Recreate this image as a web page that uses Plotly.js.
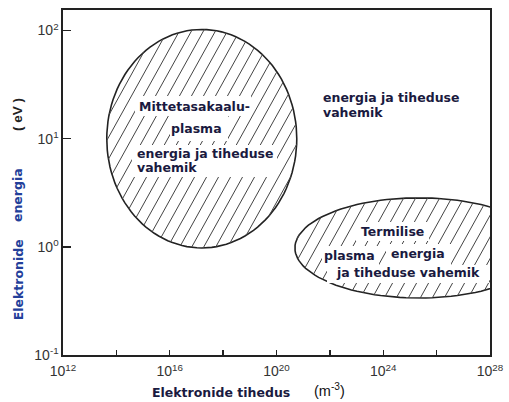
<!DOCTYPE html>
<html>
<head>
<meta charset="utf-8">
<script src="https://cdn.plot.ly/plotly-3.0.1.min.js"></script>
<style>
  html, body { margin: 0; padding: 0; background: #fff; }
  #chart { width: 509px; height: 402px; }
</style>
</head>
<body>
<div id="chart"></div>
<script>
// Regions (ellipses in log-log space): centre and half-extent in decades
const regionNames = ["Mittetasakaalu-plasma", "Termilise plasma"];
const regionCenterLogDensity = [17.2, 25.34];   // log10(n_e / m^-3)
const regionHalfWidthDecades = [3.56, 4.65];
const regionCenterLogEnergy = [1.0, -0.01];     // log10(T_e / eV)
const regionHalfHeightDecades = [1.01, 0.463];

// Axis ticks
const xTickVals = [1e12, 1e16, 1e20, 1e24, 1e28];
const xTickText = ["10<sup>12</sup>", "10<sup>16</sup>", "10<sup>20</sup>", "10<sup>24</sup>", "10<sup>28</sup>"];
const xMinorTickVals = [1e14, 1e18, 1e22, 1e26];
const yTickVals = [0.1, 1, 10, 100];
const yTickText = ["10<sup>-1</sup>", "10<sup>0</sup>", "10<sup>1</sup>", "10<sup>2</sup>"];

// ---- geometry / style ----
const W = 509, H = 402;
const M = { l: 63, r: 19, t: 10, b: 47 };
const xRange = [12, 28], yRange = [-1, 2.19];
const plotW = W - M.l - M.r, plotH = H - M.t - M.b;
const sx = plotW / (xRange[1] - xRange[0]);   // px per decade
const sy = plotH / (yRange[1] - yRange[0]);
const hatchSpacing = 12;                       // px, horizontal
const hatchAngle = 61 * Math.PI / 180;

const traces = [];
regionNames.forEach((name, i) => {
  const cu = regionCenterLogDensity[i], cv = regionCenterLogEnergy[i];
  const a = regionHalfWidthDecades[i], b = regionHalfHeightDecades[i];
  // outline
  const xs = [], ys = [];
  for (let deg = 0; deg <= 360; deg += 3) {
    const t = deg * Math.PI / 180;
    xs.push(Math.pow(10, cu + a * Math.cos(t)));
    ys.push(Math.pow(10, cv + b * Math.sin(t)));
  }
  // hatch lines clipped to the ellipse (computed in pixel space)
  const A = a * sx, B = b * sy, k = 1 / Math.tan(hatchAngle);
  const hx = [], hy = [];
  const cmax = A + B * k;
  const qa = k * k / (A * A) + 1 / (B * B);
  for (let c = -Math.floor(cmax / hatchSpacing) * hatchSpacing + (i ? 5 : 2); c < cmax; c += hatchSpacing) {
    const qb = 2 * c * k / (A * A), qc = c * c / (A * A) - 1;
    const disc = qb * qb - 4 * qa * qc;
    if (disc <= 0) continue;
    const y1 = (-qb - Math.sqrt(disc)) / (2 * qa), y2 = (-qb + Math.sqrt(disc)) / (2 * qa);
    [y1, y2].forEach(Y => {
      const X = c + Y * k;
      hx.push(Math.pow(10, cu + X / sx));
      hy.push(Math.pow(10, cv + Y / sy));
    });
    hx.push(null); hy.push(null);
  }
  traces.push({
    type: "scatter", mode: "lines", name: name,
    x: xs, y: ys, fill: "toself", fillcolor: "white",
    line: { color: "#222", width: 1.6 }, hoverinfo: "skip", showlegend: false
  });
  traces.push({
    type: "scatter", mode: "lines", name: name + " hatch",
    x: hx, y: hy, connectgaps: false,
    line: { color: "#444", width: 1 }, hoverinfo: "skip", showlegend: false
  });
});

// white boxes behind the region labels (pixel boxes -> paper coords)
function box(x0, x1, y0, y1) {
  return {
    type: "rect", xref: "paper", yref: "paper", layer: "above",
    x0: (x0 - M.l) / plotW, x1: (x1 - M.l) / plotW,
    y0: (H - M.b - y1) / plotH, y1: (H - M.b - y0) / plotH,
    fillcolor: "white", line: { width: 0 }
  };
}
const shapes = [
  box(135, 251, 96, 116),
  box(170, 228, 116, 141),
  box(132, 277, 145, 177),
  box(356, 429, 222, 241),
  box(322, 379, 246, 265),
  box(386, 451, 244, 265),
  box(327, 489, 265, 283)
];

const txtFont = { family: "DejaVu Sans", size: 12.5, color: "#1a1a40" };
function lab(text, x, y, opts) {
  return Object.assign({
    text: "<b>" + text + "</b>", x: x, y: y, xref: "x", yref: "y",
    showarrow: false, font: txtFont, xanchor: "center", yanchor: "middle"
  }, opts || {});
}

const annotations = [
  lab("Mittetasakaalu-", 16.91, 1.294),
  lab("plasma", 17.02, 1.091),
  lab("energia ja tiheduse", 14.70, 0.859, { xanchor: "left" }),
  lab("vahemik", 14.70, 0.730, { xanchor: "left" }),
  lab("energia ja tiheduse", 21.67, 1.377, { xanchor: "left" }),
  lab("vahemik", 21.67, 1.239, { xanchor: "left" }),
  lab("Termilise", 24.36, 0.138),
  lab("plasma", 22.75, -0.084),
  lab("energia", 25.30, -0.066),
  lab("ja tiheduse vahemik", 24.93, -0.241),
  // axis titles
  { text: "<b>Elektronide tihedus</b>", xref: "paper", yref: "paper", x: 0.370, y: -0.110,
    showarrow: false, font: { family: "DejaVu Sans", size: 12.5, color: "#1a1a40" }, xanchor: "center", yanchor: "middle" },
  { text: "(m<sup>-3</sup>)", xref: "paper", yref: "paper", x: 0.625, y: -0.102,
    showarrow: false, font: { family: "Liberation Sans", size: 14.5, color: "#111" }, xanchor: "center", yanchor: "middle" },
  { text: "<b>Elektronide</b>", xref: "paper", yref: "paper", x: -0.105, y: 0.217, textangle: -90,
    showarrow: false, font: { family: "DejaVu Sans", size: 12.5, color: "#23409a" }, xanchor: "center", yanchor: "middle" },
  { text: "<b>energia</b>", xref: "paper", yref: "paper", x: -0.105, y: 0.464, textangle: -90,
    showarrow: false, font: { family: "DejaVu Sans", size: 12.5, color: "#23409a" }, xanchor: "center", yanchor: "middle" },
  { text: "<b>( eV )</b>", xref: "paper", yref: "paper", x: -0.105, y: 0.696, textangle: -90,
    showarrow: false, font: { family: "Liberation Sans", size: 13.5, color: "#222" }, xanchor: "center", yanchor: "middle" }
];

const tickFont = { family: "Liberation Sans", size: 14, color: "#333" };
const layout = {
  width: W, height: H,
  margin: M,
  paper_bgcolor: "white", plot_bgcolor: "white",
  showlegend: false,
  xaxis: {
    type: "log", range: xRange,
    tickmode: "array", tickvals: xTickVals, ticktext: xTickText,
    ticks: "inside", ticklen: 5, tickwidth: 1.3, tickcolor: "#222",
    minor: { tickmode: "array", tickvals: xMinorTickVals, ticks: "inside", ticklen: 5, tickwidth: 1.3, tickcolor: "#222", showgrid: false },
    ticklabelstandoff: 3,
    showline: true, linecolor: "#222", linewidth: 1.6, mirror: true,
    showgrid: false, zeroline: false,
    tickfont: tickFont
  },
  yaxis: {
    type: "log", range: yRange,
    tickmode: "array", tickvals: yTickVals, ticktext: yTickText,
    ticks: "inside", ticklen: 8, tickwidth: 1.3, tickcolor: "#222",
    showline: true, linecolor: "#222", linewidth: 1.6, mirror: true,
    showgrid: false, zeroline: false,
    tickfont: tickFont
  },
  shapes: shapes,
  annotations: annotations
};

Plotly.newPlot("chart", traces, layout, { staticPlot: true, displayModeBar: false });
</script>
</body>
</html>
